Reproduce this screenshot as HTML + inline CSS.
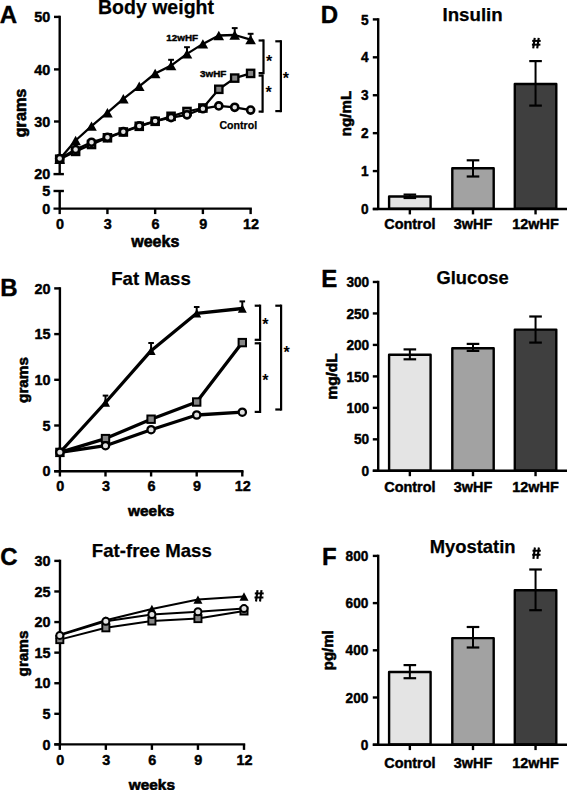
<!DOCTYPE html>
<html><head><meta charset="utf-8"><style>
html,body{margin:0;padding:0;background:#fff;width:567px;height:790px;overflow:hidden}
svg{display:block}
text{font-family:"Liberation Sans", sans-serif;font-weight:bold;fill:#000;stroke:#000;stroke-width:0.45px;stroke-linejoin:round}
.t{stroke-width:0.25px}
.l{stroke-width:0.6px}
.p{stroke-width:0.4px}
.s{stroke-width:0.25px}
.a{stroke-width:0px}
</style></head><body>
<svg width="567" height="790" viewBox="0 0 567 790">
<text class="p" x="-0.2" y="23.3" font-size="24" text-anchor="start">A</text>
<text class="t" x="156" y="13.8" font-size="19.5" text-anchor="middle">Body weight</text>
<line x1="59.7" y1="15.7" x2="59.7" y2="174.1" stroke="#000" stroke-width="2.4" stroke-linecap="butt"/>
<line x1="54" y1="16.9" x2="59.7" y2="16.9" stroke="#000" stroke-width="2.4" stroke-linecap="butt"/>
<text x="50.3" y="22.06" font-size="14.4" text-anchor="end">50</text>
<line x1="54" y1="69.4" x2="59.7" y2="69.4" stroke="#000" stroke-width="2.4" stroke-linecap="butt"/>
<text x="50.3" y="74.56" font-size="14.4" text-anchor="end">40</text>
<line x1="54" y1="121.5" x2="59.7" y2="121.5" stroke="#000" stroke-width="2.4" stroke-linecap="butt"/>
<text x="50.3" y="126.66" font-size="14.4" text-anchor="end">30</text>
<line x1="53.5" y1="174.1" x2="63.9" y2="174.1" stroke="#000" stroke-width="2.4" stroke-linecap="butt"/>
<text x="50.3" y="179.26" font-size="14.4" text-anchor="end">20</text>
<line x1="59.7" y1="191" x2="59.7" y2="208.6" stroke="#000" stroke-width="2.4" stroke-linecap="butt"/>
<line x1="53.5" y1="191" x2="63.9" y2="191" stroke="#000" stroke-width="2.4" stroke-linecap="butt"/>
<text x="50.3" y="196.16" font-size="14.4" text-anchor="end">5</text>
<text x="50.3" y="213.76" font-size="14.4" text-anchor="end">0</text>
<line x1="53.5" y1="208.6" x2="251.82" y2="208.6" stroke="#000" stroke-width="2.4" stroke-linecap="butt"/>
<line x1="59.7" y1="208.6" x2="59.7" y2="214.1" stroke="#000" stroke-width="2.4" stroke-linecap="butt"/>
<text x="60.1" y="229.3" font-size="14.4" text-anchor="middle">0</text>
<line x1="107.43" y1="208.6" x2="107.43" y2="214.1" stroke="#000" stroke-width="2.4" stroke-linecap="butt"/>
<text x="107.83" y="229.3" font-size="14.4" text-anchor="middle">3</text>
<line x1="155.16" y1="208.6" x2="155.16" y2="214.1" stroke="#000" stroke-width="2.4" stroke-linecap="butt"/>
<text x="155.56" y="229.3" font-size="14.4" text-anchor="middle">6</text>
<line x1="202.89" y1="208.6" x2="202.89" y2="214.1" stroke="#000" stroke-width="2.4" stroke-linecap="butt"/>
<text x="203.29" y="229.3" font-size="14.4" text-anchor="middle">9</text>
<line x1="250.62" y1="208.6" x2="250.62" y2="214.1" stroke="#000" stroke-width="2.4" stroke-linecap="butt"/>
<text x="251.02" y="229.3" font-size="14.4" text-anchor="middle">12</text>
<text class="l" x="155.3" y="246.8" font-size="16" text-anchor="middle">weeks</text>
<text class="l" x="25.9" y="113" font-size="16.2" text-anchor="middle" transform="rotate(-90 25.9 113)">grams</text>
<polyline points="59.7,159.2 75.61,151.4 91.52,144.5 107.43,137.8 123.34,132 139.25,126.3 155.16,121.3 171.07,116.3 186.98,111.5 202.89,108 218.8,89.3 234.71,78.1 250.62,73.4" fill="none" stroke="#000" stroke-width="2.3" stroke-linejoin="round" stroke-linecap="round"/>
<polyline points="59.7,158.5 75.61,149.6 91.52,142.3 107.43,137.3 123.34,131.7 139.25,125.9 155.16,121.1 171.07,117.6 186.98,114.8 202.89,108.7 218.8,105.9 234.71,107.3 250.62,110.1" fill="none" stroke="#000" stroke-width="2.3" stroke-linejoin="round" stroke-linecap="round"/>
<polyline points="59.7,159 75.61,140.5 91.52,126.1 107.43,112.7 123.34,98.8 139.25,86.3 155.16,73.5 171.07,65.6 186.98,53.9 202.89,43.9 218.8,35.5 234.71,35 250.62,39.6" fill="none" stroke="#000" stroke-width="2.3" stroke-linejoin="round" stroke-linecap="round"/>
<line x1="171.07" y1="59.8" x2="171.07" y2="65.6" stroke="#000" stroke-width="2" stroke-linecap="butt"/>
<line x1="168.17" y1="59.8" x2="173.97" y2="59.8" stroke="#000" stroke-width="2" stroke-linecap="butt"/>
<line x1="186.98" y1="47.2" x2="186.98" y2="53.9" stroke="#000" stroke-width="2" stroke-linecap="butt"/>
<line x1="184.08" y1="47.2" x2="189.88" y2="47.2" stroke="#000" stroke-width="2" stroke-linecap="butt"/>
<line x1="234.71" y1="28.1" x2="234.71" y2="35" stroke="#000" stroke-width="2" stroke-linecap="butt"/>
<line x1="231.81" y1="28.1" x2="237.61" y2="28.1" stroke="#000" stroke-width="2" stroke-linecap="butt"/>
<line x1="250.62" y1="33.8" x2="250.62" y2="39.6" stroke="#000" stroke-width="2" stroke-linecap="butt"/>
<line x1="247.72" y1="33.8" x2="253.52" y2="33.8" stroke="#000" stroke-width="2" stroke-linecap="butt"/>
<polygon points="59.7,154.3 65,163.7 54.4,163.7" fill="#000"/>
<polygon points="75.61,135.8 80.91,145.2 70.31,145.2" fill="#000"/>
<polygon points="91.52,121.4 96.82,130.8 86.22,130.8" fill="#000"/>
<polygon points="107.43,108 112.73,117.4 102.13,117.4" fill="#000"/>
<polygon points="123.34,94.1 128.64,103.5 118.04,103.5" fill="#000"/>
<polygon points="139.25,81.6 144.55,91 133.95,91" fill="#000"/>
<polygon points="155.16,68.8 160.46,78.2 149.86,78.2" fill="#000"/>
<polygon points="171.07,60.9 176.37,70.3 165.77,70.3" fill="#000"/>
<polygon points="186.98,49.2 192.28,58.6 181.68,58.6" fill="#000"/>
<polygon points="202.89,39.2 208.19,48.6 197.59,48.6" fill="#000"/>
<polygon points="218.8,30.8 224.1,40.2 213.5,40.2" fill="#000"/>
<polygon points="234.71,30.3 240.01,39.7 229.41,39.7" fill="#000"/>
<polygon points="250.62,34.9 255.92,44.3 245.32,44.3" fill="#000"/>
<rect x="56.05" y="155.55" width="7.3" height="7.3" fill="#858585" stroke="#000" stroke-width="2.3"/>
<rect x="71.96" y="147.75" width="7.3" height="7.3" fill="#858585" stroke="#000" stroke-width="2.3"/>
<rect x="87.87" y="140.85" width="7.3" height="7.3" fill="#858585" stroke="#000" stroke-width="2.3"/>
<rect x="103.78" y="134.15" width="7.3" height="7.3" fill="#858585" stroke="#000" stroke-width="2.3"/>
<rect x="119.69" y="128.35" width="7.3" height="7.3" fill="#858585" stroke="#000" stroke-width="2.3"/>
<rect x="135.6" y="122.65" width="7.3" height="7.3" fill="#858585" stroke="#000" stroke-width="2.3"/>
<rect x="151.51" y="117.65" width="7.3" height="7.3" fill="#858585" stroke="#000" stroke-width="2.3"/>
<rect x="167.42" y="112.65" width="7.3" height="7.3" fill="#858585" stroke="#000" stroke-width="2.3"/>
<rect x="183.33" y="107.85" width="7.3" height="7.3" fill="#858585" stroke="#000" stroke-width="2.3"/>
<rect x="199.24" y="104.35" width="7.3" height="7.3" fill="#858585" stroke="#000" stroke-width="2.3"/>
<rect x="215.15" y="85.65" width="7.3" height="7.3" fill="#858585" stroke="#000" stroke-width="2.3"/>
<rect x="231.06" y="74.45" width="7.3" height="7.3" fill="#858585" stroke="#000" stroke-width="2.3"/>
<rect x="246.97" y="69.75" width="7.3" height="7.3" fill="#858585" stroke="#000" stroke-width="2.3"/>
<circle cx="59.7" cy="158.5" r="3.55" fill="#e2e2e2" stroke="#000" stroke-width="2.6"/>
<circle cx="75.61" cy="149.6" r="3.55" fill="#e2e2e2" stroke="#000" stroke-width="2.6"/>
<circle cx="91.52" cy="142.3" r="3.55" fill="#e2e2e2" stroke="#000" stroke-width="2.6"/>
<circle cx="107.43" cy="137.3" r="3.55" fill="#e2e2e2" stroke="#000" stroke-width="2.6"/>
<circle cx="123.34" cy="131.7" r="3.55" fill="#e2e2e2" stroke="#000" stroke-width="2.6"/>
<circle cx="139.25" cy="125.9" r="3.55" fill="#e2e2e2" stroke="#000" stroke-width="2.6"/>
<circle cx="155.16" cy="121.1" r="3.55" fill="#e2e2e2" stroke="#000" stroke-width="2.6"/>
<circle cx="171.07" cy="117.6" r="3.55" fill="#e2e2e2" stroke="#000" stroke-width="2.6"/>
<circle cx="186.98" cy="114.8" r="3.55" fill="#e2e2e2" stroke="#000" stroke-width="2.6"/>
<circle cx="202.89" cy="108.7" r="3.55" fill="#e2e2e2" stroke="#000" stroke-width="2.6"/>
<circle cx="218.8" cy="105.9" r="3.55" fill="#e2e2e2" stroke="#000" stroke-width="2.6"/>
<circle cx="234.71" cy="107.3" r="3.55" fill="#e2e2e2" stroke="#000" stroke-width="2.6"/>
<circle cx="250.62" cy="110.1" r="3.55" fill="#e2e2e2" stroke="#000" stroke-width="2.6"/>
<text x="182.2" y="40.8" font-size="9.9" text-anchor="middle">12wHF</text>
<text x="213.2" y="76.5" font-size="9.9" text-anchor="middle">3wHF</text>
<text class="s" x="238.3" y="128.5" font-size="10.6" text-anchor="middle">Control</text>
<line x1="263.5" y1="39.4" x2="263.5" y2="74.2" stroke="#000" stroke-width="2.2" stroke-linecap="butt"/>
<line x1="258.6" y1="40.5" x2="263.5" y2="40.5" stroke="#000" stroke-width="2.2" stroke-linecap="butt"/>
<line x1="258.6" y1="73.1" x2="263.5" y2="73.1" stroke="#000" stroke-width="2.2" stroke-linecap="butt"/>
<line x1="262.6" y1="74.5" x2="262.6" y2="112.7" stroke="#000" stroke-width="2.2" stroke-linecap="butt"/>
<line x1="258.6" y1="75.6" x2="262.6" y2="75.6" stroke="#000" stroke-width="2.2" stroke-linecap="butt"/>
<line x1="258.6" y1="111.6" x2="262.6" y2="111.6" stroke="#000" stroke-width="2.2" stroke-linecap="butt"/>
<line x1="280.9" y1="40.2" x2="280.9" y2="112.2" stroke="#000" stroke-width="2.2" stroke-linecap="butt"/>
<line x1="275.3" y1="41.3" x2="280.9" y2="41.3" stroke="#000" stroke-width="2.2" stroke-linecap="butt"/>
<line x1="275.3" y1="111.1" x2="280.9" y2="111.1" stroke="#000" stroke-width="2.2" stroke-linecap="butt"/>
<text class="a" x="269.2" y="67.42" font-size="16" text-anchor="middle">*</text>
<text class="a" x="268.7" y="98.32" font-size="16" text-anchor="middle">*</text>
<text class="a" x="285.9" y="84.42" font-size="16" text-anchor="middle">*</text>
<text class="p" x="0.3" y="295.7" font-size="24" text-anchor="start">B</text>
<text class="t" x="151" y="284.8" font-size="18.6" text-anchor="middle">Fat Mass</text>
<line x1="59.9" y1="287.2" x2="59.9" y2="471.2" stroke="#000" stroke-width="2.4" stroke-linecap="butt"/>
<line x1="54.2" y1="471.2" x2="59.9" y2="471.2" stroke="#000" stroke-width="2.4" stroke-linecap="butt"/>
<text x="50.6" y="476.36" font-size="14.4" text-anchor="end">0</text>
<line x1="54.2" y1="425.5" x2="59.9" y2="425.5" stroke="#000" stroke-width="2.4" stroke-linecap="butt"/>
<text x="50.6" y="430.66" font-size="14.4" text-anchor="end">5</text>
<line x1="54.2" y1="379.8" x2="59.9" y2="379.8" stroke="#000" stroke-width="2.4" stroke-linecap="butt"/>
<text x="50.6" y="384.96" font-size="14.4" text-anchor="end">10</text>
<line x1="54.2" y1="334.1" x2="59.9" y2="334.1" stroke="#000" stroke-width="2.4" stroke-linecap="butt"/>
<text x="50.6" y="339.26" font-size="14.4" text-anchor="end">15</text>
<line x1="54.2" y1="288.4" x2="59.9" y2="288.4" stroke="#000" stroke-width="2.4" stroke-linecap="butt"/>
<text x="50.6" y="293.56" font-size="14.4" text-anchor="end">20</text>
<line x1="54.2" y1="471.2" x2="243.5" y2="471.2" stroke="#000" stroke-width="2.4" stroke-linecap="butt"/>
<line x1="59.9" y1="471.2" x2="59.9" y2="476.5" stroke="#000" stroke-width="2.4" stroke-linecap="butt"/>
<text x="60.3" y="490.9" font-size="14.4" text-anchor="middle">0</text>
<line x1="105.5" y1="471.2" x2="105.5" y2="476.5" stroke="#000" stroke-width="2.4" stroke-linecap="butt"/>
<text x="105.9" y="490.9" font-size="14.4" text-anchor="middle">3</text>
<line x1="151.1" y1="471.2" x2="151.1" y2="476.5" stroke="#000" stroke-width="2.4" stroke-linecap="butt"/>
<text x="151.5" y="490.9" font-size="14.4" text-anchor="middle">6</text>
<line x1="196.7" y1="471.2" x2="196.7" y2="476.5" stroke="#000" stroke-width="2.4" stroke-linecap="butt"/>
<text x="197.1" y="490.9" font-size="14.4" text-anchor="middle">9</text>
<line x1="242.3" y1="471.2" x2="242.3" y2="476.5" stroke="#000" stroke-width="2.4" stroke-linecap="butt"/>
<text x="242.7" y="490.9" font-size="14.4" text-anchor="middle">12</text>
<text class="l" x="151.2" y="516" font-size="15.4" text-anchor="middle">weeks</text>
<text class="l" x="28" y="380" font-size="15.3" text-anchor="middle" transform="rotate(-90 28 380)">grams</text>
<polyline points="59.9,452.4 105.5,438.6 151.1,419.2 196.7,402 242.3,342.6" fill="none" stroke="#000" stroke-width="3.3" stroke-linejoin="round" stroke-linecap="round"/>
<polyline points="59.9,452.3 105.5,445.7 151.1,429.7 196.7,415 242.3,412.2" fill="none" stroke="#000" stroke-width="3.3" stroke-linejoin="round" stroke-linecap="round"/>
<polyline points="59.9,452.5 105.5,402.5 151.1,350.7 196.7,313.3 242.3,308.5" fill="none" stroke="#000" stroke-width="3.3" stroke-linejoin="round" stroke-linecap="round"/>
<line x1="105.5" y1="395.6" x2="105.5" y2="402.5" stroke="#000" stroke-width="2" stroke-linecap="butt"/>
<line x1="102.7" y1="395.6" x2="108.3" y2="395.6" stroke="#000" stroke-width="2" stroke-linecap="butt"/>
<line x1="151.1" y1="343" x2="151.1" y2="350.7" stroke="#000" stroke-width="2" stroke-linecap="butt"/>
<line x1="148.3" y1="343" x2="153.9" y2="343" stroke="#000" stroke-width="2" stroke-linecap="butt"/>
<line x1="196.7" y1="307" x2="196.7" y2="313.3" stroke="#000" stroke-width="2" stroke-linecap="butt"/>
<line x1="193.9" y1="307" x2="199.5" y2="307" stroke="#000" stroke-width="2" stroke-linecap="butt"/>
<line x1="242.3" y1="301.4" x2="242.3" y2="308.5" stroke="#000" stroke-width="2" stroke-linecap="butt"/>
<line x1="239.5" y1="301.4" x2="245.1" y2="301.4" stroke="#000" stroke-width="2" stroke-linecap="butt"/>
<polygon points="59.9,448.2 64.4,456.8 55.4,456.8" fill="#000"/>
<polygon points="105.5,398.2 110,406.8 101,406.8" fill="#000"/>
<polygon points="151.1,346.4 155.6,355 146.6,355" fill="#000"/>
<polygon points="196.7,309 201.2,317.6 192.2,317.6" fill="#000"/>
<polygon points="242.3,304.2 246.8,312.8 237.8,312.8" fill="#000"/>
<rect x="56.2" y="448.7" width="7.4" height="7.4" fill="#858585" stroke="#000" stroke-width="2"/>
<rect x="101.8" y="434.9" width="7.4" height="7.4" fill="#858585" stroke="#000" stroke-width="2"/>
<rect x="147.4" y="415.5" width="7.4" height="7.4" fill="#858585" stroke="#000" stroke-width="2"/>
<rect x="193" y="398.3" width="7.4" height="7.4" fill="#858585" stroke="#000" stroke-width="2"/>
<rect x="238.6" y="338.9" width="7.4" height="7.4" fill="#858585" stroke="#000" stroke-width="2"/>
<circle cx="59.9" cy="452.3" r="3.65" fill="#e2e2e2" stroke="#000" stroke-width="2.3"/>
<circle cx="105.5" cy="445.7" r="3.65" fill="#e2e2e2" stroke="#000" stroke-width="2.3"/>
<circle cx="151.1" cy="429.7" r="3.65" fill="#e2e2e2" stroke="#000" stroke-width="2.3"/>
<circle cx="196.7" cy="415" r="3.65" fill="#e2e2e2" stroke="#000" stroke-width="2.3"/>
<circle cx="242.3" cy="412.2" r="3.65" fill="#e2e2e2" stroke="#000" stroke-width="2.3"/>
<line x1="260.1" y1="304.6" x2="260.1" y2="340.9" stroke="#000" stroke-width="2.2" stroke-linecap="butt"/>
<line x1="254.7" y1="305.7" x2="260.1" y2="305.7" stroke="#000" stroke-width="2.2" stroke-linecap="butt"/>
<line x1="254.7" y1="339.8" x2="260.1" y2="339.8" stroke="#000" stroke-width="2.2" stroke-linecap="butt"/>
<line x1="260.1" y1="342.2" x2="260.1" y2="413" stroke="#000" stroke-width="2.2" stroke-linecap="butt"/>
<line x1="254.7" y1="343.3" x2="260.1" y2="343.3" stroke="#000" stroke-width="2.2" stroke-linecap="butt"/>
<line x1="254.7" y1="411.9" x2="260.1" y2="411.9" stroke="#000" stroke-width="2.2" stroke-linecap="butt"/>
<line x1="281.1" y1="304.6" x2="281.1" y2="410.6" stroke="#000" stroke-width="2.2" stroke-linecap="butt"/>
<line x1="275.3" y1="305.7" x2="281.1" y2="305.7" stroke="#000" stroke-width="2.2" stroke-linecap="butt"/>
<line x1="275.3" y1="409.5" x2="281.1" y2="409.5" stroke="#000" stroke-width="2.2" stroke-linecap="butt"/>
<text class="a" x="265.4" y="330.42" font-size="16" text-anchor="middle">*</text>
<text class="a" x="265.4" y="385.62" font-size="16" text-anchor="middle">*</text>
<text class="a" x="286.5" y="358.42" font-size="16" text-anchor="middle">*</text>
<text class="p" x="0.3" y="564.6" font-size="24" text-anchor="start">C</text>
<text class="t" x="151.8" y="557.2" font-size="18.6" text-anchor="middle">Fat-free Mass</text>
<line x1="60" y1="559.69" x2="60" y2="744.4" stroke="#000" stroke-width="2.4" stroke-linecap="butt"/>
<line x1="54.3" y1="744.4" x2="60" y2="744.4" stroke="#000" stroke-width="2.4" stroke-linecap="butt"/>
<text x="50.6" y="749.56" font-size="14.4" text-anchor="end">0</text>
<line x1="54.3" y1="713.81" x2="60" y2="713.81" stroke="#000" stroke-width="2.4" stroke-linecap="butt"/>
<text x="50.6" y="718.97" font-size="14.4" text-anchor="end">5</text>
<line x1="54.3" y1="683.23" x2="60" y2="683.23" stroke="#000" stroke-width="2.4" stroke-linecap="butt"/>
<text x="50.6" y="688.39" font-size="14.4" text-anchor="end">10</text>
<line x1="54.3" y1="652.64" x2="60" y2="652.64" stroke="#000" stroke-width="2.4" stroke-linecap="butt"/>
<text x="50.6" y="657.8" font-size="14.4" text-anchor="end">15</text>
<line x1="54.3" y1="622.06" x2="60" y2="622.06" stroke="#000" stroke-width="2.4" stroke-linecap="butt"/>
<text x="50.6" y="627.22" font-size="14.4" text-anchor="end">20</text>
<line x1="54.3" y1="591.47" x2="60" y2="591.47" stroke="#000" stroke-width="2.4" stroke-linecap="butt"/>
<text x="50.6" y="596.63" font-size="14.4" text-anchor="end">25</text>
<line x1="54.3" y1="560.89" x2="60" y2="560.89" stroke="#000" stroke-width="2.4" stroke-linecap="butt"/>
<text x="50.6" y="566.05" font-size="14.4" text-anchor="end">30</text>
<line x1="54.3" y1="744.4" x2="245.2" y2="744.4" stroke="#000" stroke-width="2.4" stroke-linecap="butt"/>
<line x1="59.8" y1="744.4" x2="59.8" y2="749.9" stroke="#000" stroke-width="2.4" stroke-linecap="butt"/>
<text x="60.2" y="765" font-size="14.4" text-anchor="middle">0</text>
<line x1="105.85" y1="744.4" x2="105.85" y2="749.9" stroke="#000" stroke-width="2.4" stroke-linecap="butt"/>
<text x="106.25" y="765" font-size="14.4" text-anchor="middle">3</text>
<line x1="151.9" y1="744.4" x2="151.9" y2="749.9" stroke="#000" stroke-width="2.4" stroke-linecap="butt"/>
<text x="152.3" y="765" font-size="14.4" text-anchor="middle">6</text>
<line x1="197.95" y1="744.4" x2="197.95" y2="749.9" stroke="#000" stroke-width="2.4" stroke-linecap="butt"/>
<text x="198.35" y="765" font-size="14.4" text-anchor="middle">9</text>
<line x1="244" y1="744.4" x2="244" y2="749.9" stroke="#000" stroke-width="2.4" stroke-linecap="butt"/>
<text x="244.4" y="765" font-size="14.4" text-anchor="middle">12</text>
<text class="l" x="151.9" y="789.6" font-size="15.4" text-anchor="middle">weeks</text>
<text class="l" x="28" y="653.5" font-size="15.3" text-anchor="middle" transform="rotate(-90 28 653.5)">grams</text>
<polyline points="59.8,639.6 105.85,627.8 151.9,621 197.95,618.6 244,611" fill="none" stroke="#000" stroke-width="2" stroke-linejoin="round" stroke-linecap="round"/>
<polyline points="59.8,634.8 105.85,620.3 151.9,609 197.95,599.6 244,596.5" fill="none" stroke="#000" stroke-width="2" stroke-linejoin="round" stroke-linecap="round"/>
<polyline points="59.8,635.4 105.85,621.3 151.9,614.6 197.95,611.8 244,608.6" fill="none" stroke="#000" stroke-width="2" stroke-linejoin="round" stroke-linecap="round"/>
<polygon points="59.8,630.65 64.3,638.95 55.3,638.95" fill="#000"/>
<polygon points="105.85,616.15 110.35,624.45 101.35,624.45" fill="#000"/>
<polygon points="151.9,604.85 156.4,613.15 147.4,613.15" fill="#000"/>
<polygon points="197.95,595.45 202.45,603.75 193.45,603.75" fill="#000"/>
<polygon points="244,592.35 248.5,600.65 239.5,600.65" fill="#000"/>
<rect x="56.25" y="636.05" width="7.1" height="7.1" fill="#858585" stroke="#000" stroke-width="1.9"/>
<rect x="102.3" y="624.25" width="7.1" height="7.1" fill="#858585" stroke="#000" stroke-width="1.9"/>
<rect x="148.35" y="617.45" width="7.1" height="7.1" fill="#858585" stroke="#000" stroke-width="1.9"/>
<rect x="194.4" y="615.05" width="7.1" height="7.1" fill="#858585" stroke="#000" stroke-width="1.9"/>
<rect x="240.45" y="607.45" width="7.1" height="7.1" fill="#858585" stroke="#000" stroke-width="1.9"/>
<circle cx="59.8" cy="635.4" r="3.5" fill="#e2e2e2" stroke="#000" stroke-width="2"/>
<circle cx="105.85" cy="621.3" r="3.5" fill="#e2e2e2" stroke="#000" stroke-width="2"/>
<circle cx="151.9" cy="614.6" r="3.5" fill="#e2e2e2" stroke="#000" stroke-width="2"/>
<circle cx="197.95" cy="611.8" r="3.5" fill="#e2e2e2" stroke="#000" stroke-width="2"/>
<circle cx="244" cy="608.6" r="3.5" fill="#e2e2e2" stroke="#000" stroke-width="2"/>
<line x1="257.5" y1="590.2" x2="256" y2="601.5" stroke="#000" stroke-width="2.1" stroke-linecap="butt"/>
<line x1="261.5" y1="590.2" x2="260" y2="601.5" stroke="#000" stroke-width="2.1" stroke-linecap="butt"/>
<line x1="254.8" y1="593.42" x2="263.7" y2="593.42" stroke="#000" stroke-width="1.99" stroke-linecap="butt"/>
<line x1="254.5" y1="597.49" x2="263.4" y2="597.49" stroke="#000" stroke-width="1.99" stroke-linecap="butt"/>
<text class="p" x="320.7" y="23.3" font-size="24" text-anchor="start">D</text>
<text class="t" x="472.6" y="20.9" font-size="18.7" text-anchor="middle">Insulin</text>
<line x1="378.2" y1="18.2" x2="378.2" y2="209" stroke="#000" stroke-width="2.4" stroke-linecap="butt"/>
<line x1="372.8" y1="209" x2="378.2" y2="209" stroke="#000" stroke-width="2.4" stroke-linecap="butt"/>
<text transform="translate(368.6 214.16) scale(0.95 1)" font-size="14.4" text-anchor="end">0</text>
<line x1="372.8" y1="171.08" x2="378.2" y2="171.08" stroke="#000" stroke-width="2.4" stroke-linecap="butt"/>
<text transform="translate(368.6 176.24) scale(0.95 1)" font-size="14.4" text-anchor="end">1</text>
<line x1="372.8" y1="133.16" x2="378.2" y2="133.16" stroke="#000" stroke-width="2.4" stroke-linecap="butt"/>
<text transform="translate(368.6 138.32) scale(0.95 1)" font-size="14.4" text-anchor="end">2</text>
<line x1="372.8" y1="95.24" x2="378.2" y2="95.24" stroke="#000" stroke-width="2.4" stroke-linecap="butt"/>
<text transform="translate(368.6 100.4) scale(0.95 1)" font-size="14.4" text-anchor="end">3</text>
<line x1="372.8" y1="57.32" x2="378.2" y2="57.32" stroke="#000" stroke-width="2.4" stroke-linecap="butt"/>
<text transform="translate(368.6 62.48) scale(0.95 1)" font-size="14.4" text-anchor="end">4</text>
<line x1="372.8" y1="19.4" x2="378.2" y2="19.4" stroke="#000" stroke-width="2.4" stroke-linecap="butt"/>
<text transform="translate(368.6 24.56) scale(0.95 1)" font-size="14.4" text-anchor="end">5</text>
<rect x="389.1" y="196.5" width="41.5" height="12.3" fill="#e4e4e4" stroke="#000" stroke-width="2.4" stroke-linejoin="round"/>
<rect x="452.3" y="168.3" width="41.4" height="40.5" fill="#a2a2a2" stroke="#000" stroke-width="2.4" stroke-linejoin="round"/>
<rect x="514.8" y="84" width="41.5" height="124.8" fill="#3f3f3f" stroke="#000" stroke-width="2.4" stroke-linejoin="round"/>
<line x1="372.8" y1="209" x2="567" y2="209" stroke="#000" stroke-width="2.4" stroke-linecap="butt"/>
<line x1="409.85" y1="209" x2="409.85" y2="214.4" stroke="#000" stroke-width="2.4" stroke-linecap="butt"/>
<text x="409.85" y="228.6" font-size="14.4" text-anchor="middle">Control</text>
<line x1="409.85" y1="194.6" x2="409.85" y2="198" stroke="#000" stroke-width="2" stroke-linecap="butt"/>
<line x1="403.55" y1="194.6" x2="416.15" y2="194.6" stroke="#000" stroke-width="2.2" stroke-linecap="butt"/>
<line x1="403.55" y1="198" x2="416.15" y2="198" stroke="#000" stroke-width="2.2" stroke-linecap="butt"/>
<line x1="473" y1="209" x2="473" y2="214.4" stroke="#000" stroke-width="2.4" stroke-linecap="butt"/>
<text x="473" y="228.6" font-size="14.4" text-anchor="middle">3wHF</text>
<line x1="473" y1="160.3" x2="473" y2="176.5" stroke="#000" stroke-width="2" stroke-linecap="butt"/>
<line x1="466.7" y1="160.3" x2="479.3" y2="160.3" stroke="#000" stroke-width="2.2" stroke-linecap="butt"/>
<line x1="466.7" y1="176.5" x2="479.3" y2="176.5" stroke="#000" stroke-width="2.2" stroke-linecap="butt"/>
<line x1="535.55" y1="209" x2="535.55" y2="214.4" stroke="#000" stroke-width="2.4" stroke-linecap="butt"/>
<text x="535.55" y="228.6" font-size="14.4" text-anchor="middle">12wHF</text>
<line x1="535.55" y1="61.1" x2="535.55" y2="105.6" stroke="#000" stroke-width="2" stroke-linecap="butt"/>
<line x1="529.25" y1="61.1" x2="541.85" y2="61.1" stroke="#000" stroke-width="2.2" stroke-linecap="butt"/>
<line x1="529.25" y1="105.6" x2="541.85" y2="105.6" stroke="#000" stroke-width="2.2" stroke-linecap="butt"/>
<text class="l" x="351.3" y="113.5" font-size="15.1" text-anchor="middle" transform="rotate(-90 351.3 113.5)">ng/mL</text>
<line x1="534.7" y1="37.9" x2="533.2" y2="48.4" stroke="#000" stroke-width="2.1" stroke-linecap="butt"/>
<line x1="538.7" y1="37.9" x2="537.2" y2="48.4" stroke="#000" stroke-width="2.1" stroke-linecap="butt"/>
<line x1="532.2" y1="40.89" x2="540.7" y2="40.89" stroke="#000" stroke-width="1.99" stroke-linecap="butt"/>
<line x1="531.9" y1="44.67" x2="540.4" y2="44.67" stroke="#000" stroke-width="1.99" stroke-linecap="butt"/>
<text class="p" x="321.3" y="287" font-size="24" text-anchor="start">E</text>
<text class="t" x="472.6" y="283.5" font-size="18.3" text-anchor="middle">Glucose</text>
<line x1="378.2" y1="280.78" x2="378.2" y2="470.8" stroke="#000" stroke-width="2.4" stroke-linecap="butt"/>
<line x1="372.8" y1="470.8" x2="378.2" y2="470.8" stroke="#000" stroke-width="2.4" stroke-linecap="butt"/>
<text transform="translate(369.2 475.96) scale(0.95 1)" font-size="14.4" text-anchor="end">0</text>
<line x1="372.8" y1="439.33" x2="378.2" y2="439.33" stroke="#000" stroke-width="2.4" stroke-linecap="butt"/>
<text transform="translate(369.2 444.49) scale(0.95 1)" font-size="14.4" text-anchor="end">50</text>
<line x1="372.8" y1="407.86" x2="378.2" y2="407.86" stroke="#000" stroke-width="2.4" stroke-linecap="butt"/>
<text transform="translate(369.2 413.02) scale(0.95 1)" font-size="14.4" text-anchor="end">100</text>
<line x1="372.8" y1="376.39" x2="378.2" y2="376.39" stroke="#000" stroke-width="2.4" stroke-linecap="butt"/>
<text transform="translate(369.2 381.55) scale(0.95 1)" font-size="14.4" text-anchor="end">150</text>
<line x1="372.8" y1="344.92" x2="378.2" y2="344.92" stroke="#000" stroke-width="2.4" stroke-linecap="butt"/>
<text transform="translate(369.2 350.08) scale(0.95 1)" font-size="14.4" text-anchor="end">200</text>
<line x1="372.8" y1="313.45" x2="378.2" y2="313.45" stroke="#000" stroke-width="2.4" stroke-linecap="butt"/>
<text transform="translate(369.2 318.61) scale(0.95 1)" font-size="14.4" text-anchor="end">250</text>
<line x1="372.8" y1="281.98" x2="378.2" y2="281.98" stroke="#000" stroke-width="2.4" stroke-linecap="butt"/>
<text transform="translate(369.2 287.14) scale(0.95 1)" font-size="14.4" text-anchor="end">300</text>
<rect x="389.1" y="354.8" width="41.5" height="115.8" fill="#e4e4e4" stroke="#000" stroke-width="2.4" stroke-linejoin="round"/>
<rect x="452.3" y="348.3" width="41.4" height="122.3" fill="#a2a2a2" stroke="#000" stroke-width="2.4" stroke-linejoin="round"/>
<rect x="514.8" y="329.6" width="41.5" height="141" fill="#3f3f3f" stroke="#000" stroke-width="2.4" stroke-linejoin="round"/>
<line x1="372.8" y1="470.8" x2="567" y2="470.8" stroke="#000" stroke-width="2.4" stroke-linecap="butt"/>
<line x1="409.85" y1="470.8" x2="409.85" y2="476.2" stroke="#000" stroke-width="2.4" stroke-linecap="butt"/>
<text x="409.85" y="491.9" font-size="14.4" text-anchor="middle">Control</text>
<line x1="409.85" y1="349.4" x2="409.85" y2="359.3" stroke="#000" stroke-width="2" stroke-linecap="butt"/>
<line x1="403.55" y1="349.4" x2="416.15" y2="349.4" stroke="#000" stroke-width="2.2" stroke-linecap="butt"/>
<line x1="403.55" y1="359.3" x2="416.15" y2="359.3" stroke="#000" stroke-width="2.2" stroke-linecap="butt"/>
<line x1="473" y1="470.8" x2="473" y2="476.2" stroke="#000" stroke-width="2.4" stroke-linecap="butt"/>
<text x="473" y="491.9" font-size="14.4" text-anchor="middle">3wHF</text>
<line x1="473" y1="343.9" x2="473" y2="350.9" stroke="#000" stroke-width="2" stroke-linecap="butt"/>
<line x1="466.7" y1="343.9" x2="479.3" y2="343.9" stroke="#000" stroke-width="2.2" stroke-linecap="butt"/>
<line x1="466.7" y1="350.9" x2="479.3" y2="350.9" stroke="#000" stroke-width="2.2" stroke-linecap="butt"/>
<line x1="535.55" y1="470.8" x2="535.55" y2="476.2" stroke="#000" stroke-width="2.4" stroke-linecap="butt"/>
<text x="535.55" y="491.9" font-size="14.4" text-anchor="middle">12wHF</text>
<line x1="535.55" y1="316.5" x2="535.55" y2="342.6" stroke="#000" stroke-width="2" stroke-linecap="butt"/>
<line x1="529.25" y1="316.5" x2="541.85" y2="316.5" stroke="#000" stroke-width="2.2" stroke-linecap="butt"/>
<line x1="529.25" y1="342.6" x2="541.85" y2="342.6" stroke="#000" stroke-width="2.2" stroke-linecap="butt"/>
<text class="l" x="336.9" y="376.4" font-size="15.4" text-anchor="middle" transform="rotate(-90 336.9 376.4)">mg/dL</text>
<text class="p" x="321.9" y="564.9" font-size="24" text-anchor="start">F</text>
<text class="t" x="472.6" y="552.6" font-size="18.4" text-anchor="middle">Myostatin</text>
<line x1="378.2" y1="554.7" x2="378.2" y2="744.7" stroke="#000" stroke-width="2.4" stroke-linecap="butt"/>
<line x1="372.8" y1="744.7" x2="378.2" y2="744.7" stroke="#000" stroke-width="2.4" stroke-linecap="butt"/>
<text transform="translate(368.4 749.86) scale(0.95 1)" font-size="14.4" text-anchor="end">0</text>
<line x1="372.8" y1="697.5" x2="378.2" y2="697.5" stroke="#000" stroke-width="2.4" stroke-linecap="butt"/>
<text transform="translate(368.4 702.66) scale(0.95 1)" font-size="14.4" text-anchor="end">200</text>
<line x1="372.8" y1="650.3" x2="378.2" y2="650.3" stroke="#000" stroke-width="2.4" stroke-linecap="butt"/>
<text transform="translate(368.4 655.46) scale(0.95 1)" font-size="14.4" text-anchor="end">400</text>
<line x1="372.8" y1="603.1" x2="378.2" y2="603.1" stroke="#000" stroke-width="2.4" stroke-linecap="butt"/>
<text transform="translate(368.4 608.26) scale(0.95 1)" font-size="14.4" text-anchor="end">600</text>
<line x1="372.8" y1="555.9" x2="378.2" y2="555.9" stroke="#000" stroke-width="2.4" stroke-linecap="butt"/>
<text transform="translate(368.4 561.06) scale(0.95 1)" font-size="14.4" text-anchor="end">800</text>
<rect x="389.1" y="672" width="41.5" height="72.5" fill="#e4e4e4" stroke="#000" stroke-width="2.4" stroke-linejoin="round"/>
<rect x="452.3" y="638.1" width="41.4" height="106.4" fill="#a2a2a2" stroke="#000" stroke-width="2.4" stroke-linejoin="round"/>
<rect x="514.8" y="590.2" width="41.5" height="154.3" fill="#3f3f3f" stroke="#000" stroke-width="2.4" stroke-linejoin="round"/>
<line x1="372.8" y1="744.7" x2="567" y2="744.7" stroke="#000" stroke-width="2.4" stroke-linecap="butt"/>
<line x1="409.85" y1="744.7" x2="409.85" y2="750.1" stroke="#000" stroke-width="2.4" stroke-linecap="butt"/>
<text x="409.85" y="768.2" font-size="14.4" text-anchor="middle">Control</text>
<line x1="409.85" y1="665.1" x2="409.85" y2="678.2" stroke="#000" stroke-width="2" stroke-linecap="butt"/>
<line x1="403.55" y1="665.1" x2="416.15" y2="665.1" stroke="#000" stroke-width="2.2" stroke-linecap="butt"/>
<line x1="403.55" y1="678.2" x2="416.15" y2="678.2" stroke="#000" stroke-width="2.2" stroke-linecap="butt"/>
<line x1="473" y1="744.7" x2="473" y2="750.1" stroke="#000" stroke-width="2.4" stroke-linecap="butt"/>
<text x="473" y="768.2" font-size="14.4" text-anchor="middle">3wHF</text>
<line x1="473" y1="627" x2="473" y2="647.5" stroke="#000" stroke-width="2" stroke-linecap="butt"/>
<line x1="466.7" y1="627" x2="479.3" y2="627" stroke="#000" stroke-width="2.2" stroke-linecap="butt"/>
<line x1="466.7" y1="647.5" x2="479.3" y2="647.5" stroke="#000" stroke-width="2.2" stroke-linecap="butt"/>
<line x1="535.55" y1="744.7" x2="535.55" y2="750.1" stroke="#000" stroke-width="2.4" stroke-linecap="butt"/>
<text x="535.55" y="768.2" font-size="14.4" text-anchor="middle">12wHF</text>
<line x1="535.55" y1="569.5" x2="535.55" y2="610.2" stroke="#000" stroke-width="2" stroke-linecap="butt"/>
<line x1="529.25" y1="569.5" x2="541.85" y2="569.5" stroke="#000" stroke-width="2.2" stroke-linecap="butt"/>
<line x1="529.25" y1="610.2" x2="541.85" y2="610.2" stroke="#000" stroke-width="2.2" stroke-linecap="butt"/>
<text class="l" x="332.6" y="650.2" font-size="15" text-anchor="middle" transform="rotate(-90 332.6 650.2)">pg/ml</text>
<line x1="534.9" y1="547.5" x2="533.4" y2="558.8" stroke="#000" stroke-width="2.1" stroke-linecap="butt"/>
<line x1="538.9" y1="547.5" x2="537.4" y2="558.8" stroke="#000" stroke-width="2.1" stroke-linecap="butt"/>
<line x1="532.5" y1="550.72" x2="540.8" y2="550.72" stroke="#000" stroke-width="1.99" stroke-linecap="butt"/>
<line x1="532.2" y1="554.79" x2="540.5" y2="554.79" stroke="#000" stroke-width="1.99" stroke-linecap="butt"/>
</svg>
</body></html>
